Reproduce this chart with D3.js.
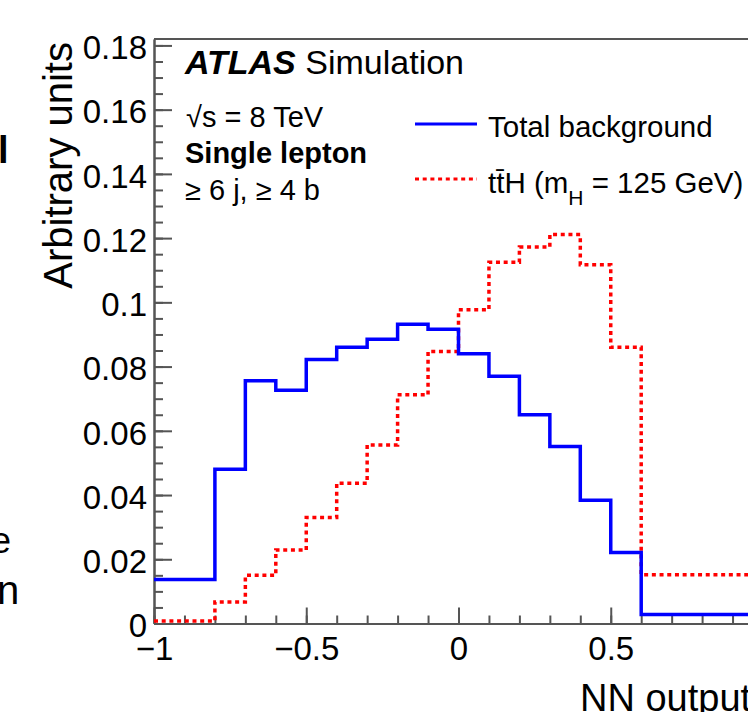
<!DOCTYPE html>
<meta charset="utf-8">
<script src="https://d3js.org/d3.v7.min.js"></script>
<style>
  body { margin: 0; background: #fff; }
  text { font-family: "Liberation Sans", Arial, sans-serif; fill: #000; }
</style>
<div id="chart"></div>
<script>

// bin edges of the NN output histograms (first and last bins are wide)
var binEdges = [-1, -0.8, -0.7, -0.6, -0.5, -0.4, -0.3, -0.2, -0.1, 0, 0.1, 0.2, 0.3, 0.4, 0.5, 0.6, 1]
// normalised contents, one per bin
var background = [0.0137, 0.0480, 0.0756, 0.0726, 0.0822, 0.0860, 0.0885, 0.0932, 0.0916, 0.0840, 0.0770, 0.0650, 0.0551, 0.0384, 0.0221, 0.0028]
var ttH = [0.0008, 0.0067, 0.0150, 0.0229, 0.0330, 0.0437, 0.0556, 0.0712, 0.0847, 0.0977, 0.1125, 0.1172, 0.1211, 0.1117, 0.0860, 0.0152]

// tick values and labels
var yTicks = [0, 0.02, 0.04, 0.06, 0.08, 0.1, 0.12, 0.14, 0.16, 0.18]
var yTickLabels = ["0", "0.02", "0.04", "0.06", "0.08", "0.1", "0.12", "0.14", "0.16", "0.18"]
var xTicks = [-1, -0.5, 0, 0.5, 1]
var xTickLabels = ["\u22121", "\u22120.5", "0", "0.5", "1"]

var width = 748, height = 712
var frameLeft = 154, frameRight = 763, frameTop = 39, frameBottom = 623.5
var axisColor = "#555"

var svg = d3.select("#chart").append("svg")
  .attr("width", width)
  .attr("height", height)

var x = d3.scaleLinear().domain([-1, 1]).range([frameLeft, frameRight])
var y = d3.scaleLinear().domain([0, 0.182]).range([frameBottom, frameTop])

// minor ticks
svg.append("g")
  .attr("transform", "translate(" + frameLeft + ",0)")
  .call(d3.axisLeft(y).tickValues(d3.range(0, 0.1826, 0.005)).tickSize(-9).tickSizeOuter(0).tickFormat(""))
svg.append("g")
  .attr("transform", "translate(0," + frameBottom + ")")
  .call(d3.axisBottom(x).tickValues(d3.range(-10, 11).map(function(d) { return d / 10 })).tickSize(-8).tickSizeOuter(0).tickFormat(""))

// major ticks + labels
svg.append("g")
  .attr("class", "yaxis")
  .attr("transform", "translate(" + frameLeft + ",0)")
  .call(d3.axisLeft(y).tickValues(yTicks).tickSize(-18).tickSizeOuter(0).tickPadding(7)
    .tickFormat(function(d, i) { return yTickLabels[i] }))
svg.append("g")
  .attr("class", "xaxis")
  .attr("transform", "translate(0," + frameBottom + ")")
  .call(d3.axisBottom(x).tickValues(xTicks).tickSize(-16).tickSizeOuter(0).tickPadding(13)
    .tickFormat(function(d, i) { return xTickLabels[i] }))

svg.selectAll(".domain, .tick line").attr("stroke", axisColor).attr("stroke-width", 2)
svg.selectAll(".tick text").style("font-family", "Liberation Sans, Arial, sans-serif").style("font-size", "33px").attr("fill", "#000")
svg.selectAll(".yaxis .tick text").attr("dy", "0.40em")

// top frame line
svg.append("line")
  .attr("x1", frameLeft).attr("x2", frameRight).attr("y1", frameTop).attr("y2", frameTop)
  .attr("stroke", axisColor).attr("stroke-width", 2)

// step path for a histogram
function stepPath(vals) {
  var p = "M" + x(binEdges[0]) + "," + y(vals[0])
  vals.forEach(function(v, i) {
    if (i > 0) p += "V" + y(v)
    p += "H" + x(binEdges[i + 1])
  })
  return p
}

var plot = svg.append("g")

plot.append("path")
  .attr("d", stepPath(ttH))
  .attr("fill", "none")
  .attr("stroke", "#ff0000")
  .attr("stroke-width", 3.5)
  .attr("stroke-dasharray", "4,3.7")

plot.append("path")
  .attr("d", stepPath(background))
  .attr("fill", "none")
  .attr("stroke", "#0000ff")
  .attr("stroke-width", 3.5)

// axis titles
svg.append("text")
  .attr("transform", "translate(72,42) rotate(-90)")
  .attr("text-anchor", "end")
  .style("font-size", "40px")
  .text("Arbitrary units")

svg.append("text")
  .attr("x", 580).attr("y", 711)
  .style("font-size", "38px")
  .text("NN output")

// labels
var atlas = svg.append("text").attr("x", 185).attr("y", 74).style("font-size", "34px")
atlas.append("tspan").style("font-weight", "bold").style("font-style", "italic").text("ATLAS")
atlas.append("tspan").text(" Simulation")

svg.append("text").attr("x", 186).attr("y", 127).style("font-size", "29px").text("\u221As = 8 TeV")
svg.append("text").attr("x", 185).attr("y", 163).style("font-size", "29px").style("font-weight", "bold").text("Single lepton")
svg.append("text").attr("x", 185).attr("y", 200).style("font-size", "29px").text("\u2265 6 j, \u2265 4 b")

// legend
svg.append("line").attr("x1", 415).attr("x2", 477).attr("y1", 124).attr("y2", 124)
  .attr("stroke", "#0000ff").attr("stroke-width", 3)
svg.append("line").attr("x1", 415).attr("x2", 477).attr("y1", 179).attr("y2", 179)
  .attr("stroke", "#ff0000").attr("stroke-width", 3).attr("stroke-dasharray", "4,3.7")

svg.append("text").attr("x", 488).attr("y", 137).style("font-size", "29.5px").text("Total background")
var sig = svg.append("text").attr("x", 488).attr("y", 193).style("font-size", "29.5px")
sig.append("tspan").text("tt\u0304H (m")
sig.append("tspan").attr("dy", 12).style("font-size", "21px").text("H")
sig.append("tspan").attr("dy", -12).text(" = 125 GeV)")

// fragments of the neighbouring panel's text at the left edge
svg.append("text").attr("x", -2).attr("y", 163).style("font-size", "38px").style("font-weight", "bold").text("l")
svg.append("text").attr("x", -9).attr("y", 553).style("font-size", "36px").text("e")
svg.append("text").attr("x", -3).attr("y", 604).style("font-size", "40px").text("n")

</script>
